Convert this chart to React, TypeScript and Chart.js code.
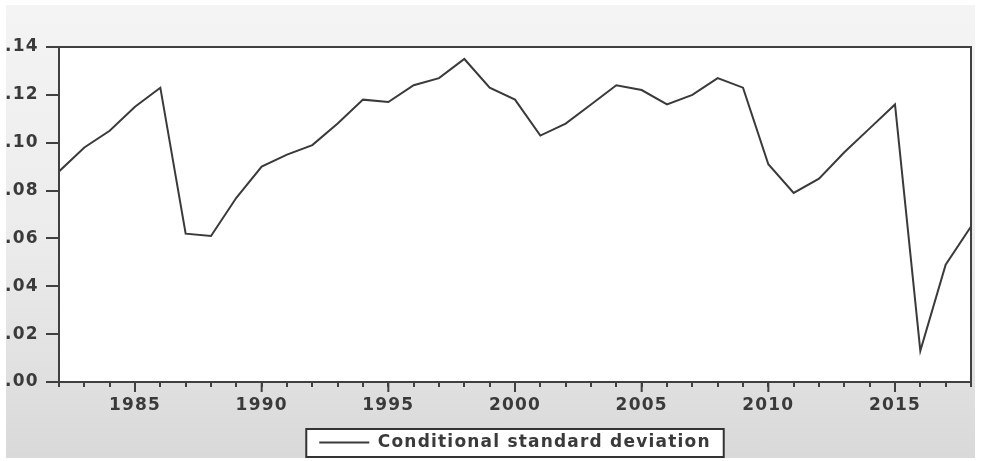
import React, { useEffect, useRef } from "react";
import { Chart, registerables } from "chart.js";

Chart.register(...registerables);

const years = [
  1982, 1983, 1984, 1985, 1986, 1987, 1988, 1989, 1990, 1991, 1992, 1993, 1994,
  1995, 1996, 1997, 1998, 1999, 2000, 2001, 2002, 2003, 2004, 2005, 2006, 2007,
  2008, 2009, 2010, 2011, 2012, 2013, 2014, 2015, 2016, 2017, 2018,
];

const conditionalSD = [
  0.088, 0.098, 0.105, 0.115, 0.123, 0.062, 0.061, 0.077, 0.09, 0.095, 0.099,
  0.108, 0.118, 0.117, 0.124, 0.127, 0.135, 0.123, 0.118, 0.103, 0.108, 0.116,
  0.124, 0.122, 0.116, 0.12, 0.127, 0.123, 0.091, 0.079, 0.085, 0.096, 0.106,
  0.116, 0.013, 0.049, 0.065,
];

const yTickValues = [0, 0.02, 0.04, 0.06, 0.08, 0.1, 0.12, 0.14];
const yTickLabels = [".00", ".02", ".04", ".06", ".08", ".10", ".12", ".14"];
const xTickValues = [1985, 1990, 1995, 2000, 2005, 2010, 2015];
const xTickLabels = ["1985", "1990", "1995", "2000", "2005", "2010", "2015"];

const seriesName = "Conditional standard deviation";

const AXIS = "#404040";
const TEXT = "#3a3a3a";
const FONT = { family: "'DejaVu Sans', sans-serif", size: 17, weight: "bold" as const };
const SPACING = "1.2px";

const spacingPlugin = {
  id: "spacing",
  beforeInit(chart: any) {
    chart.ctx.letterSpacing = SPACING;
  },
  beforeLayout(chart: any) {
    chart.ctx.letterSpacing = SPACING;
  },
  beforeDraw(chart: any) {
    chart.ctx.letterSpacing = SPACING;
  },
};

const framePlugin = {
  id: "frame",
  beforeDraw(chart: any) {
    const { ctx, chartArea: a } = chart;
    ctx.save();
    ctx.fillStyle = "#ffffff";
    ctx.fillRect(a.left, a.top, a.right - a.left, a.bottom - a.top);
    const hb = chart.legend && chart.legend.legendHitBoxes && chart.legend.legendHitBoxes[0];
    if (hb) {
      const x = hb.left - 13;
      const y = hb.top - 5;
      const w = hb.width + 26;
      const h = hb.height + 11;
      ctx.fillRect(x, y, w, h);
      ctx.strokeStyle = "#333333";
      ctx.lineWidth = 2;
      ctx.strokeRect(x, y, w, h);
    }
    ctx.restore();
  },
  afterDraw(chart: any) {
    const { ctx, chartArea: a, scales } = chart;
    ctx.save();
    ctx.strokeStyle = AXIS;
    ctx.lineWidth = 2;
    ctx.strokeRect(a.left, a.top, a.right - a.left, a.bottom - a.top);
    ctx.beginPath();
    xTickValues.forEach((v) => {
      const px = scales.x.getPixelForValue(v);
      ctx.moveTo(px, a.bottom);
      ctx.lineTo(px, a.bottom + 10);
    });
    ctx.stroke();
    ctx.restore();
  },
};

export default function App() {
  const ref = useRef<HTMLCanvasElement | null>(null);

  useEffect(() => {
    if (!ref.current) return;
    const chart = new Chart(ref.current, {
      type: "line",
      data: {
        datasets: [
          {
            label: seriesName,
            data: years.map((y, i) => ({ x: y, y: conditionalSD[i] })),
            borderColor: "#3a3a3a",
            backgroundColor: "#3a3a3a",
            borderWidth: 2,
            pointRadius: 0,
            tension: 0,
            fill: false,
          },
        ],
      },
      options: {
        animation: false,
        responsive: false,
        devicePixelRatio: 1,
        layout: { padding: { left: 5, right: 12, top: 47, bottom: 0 } },
        plugins: {
          tooltip: { enabled: false },
          legend: {
            position: "bottom",
            fullSize: false,
            labels: {
              usePointStyle: true,
              pointStyle: "line",
              pointStyleWidth: 50,
              font: FONT,
              color: TEXT,
              padding: 10,
            },
          },
        },
        scales: {
          x: {
            type: "linear",
            min: years[0],
            max: years[years.length - 1],
            afterFit: (s: any) => {
              s.height = 42;
            },
            ticks: {
              stepSize: 1,
              autoSkip: false,
              maxRotation: 0,
              padding: 8,
              font: FONT,
              color: TEXT,
              callback: (v: any) => {
                const i = xTickValues.indexOf(Number(v));
                return i >= 0 ? xTickLabels[i] : "";
              },
            },
            grid: {
              drawOnChartArea: false,
              drawTicks: true,
              tickLength: 5,
              color: AXIS,
              lineWidth: 2,
            },
            border: { color: AXIS, width: 2 },
          },
          y: {
            min: 0,
            max: 0.14,
            afterFit: (s: any) => {
              s.width = 54;
            },
            afterBuildTicks: (s: any) => {
              s.ticks = yTickValues.map((v) => ({ value: v }));
            },
            ticks: {
              crossAlign: "far",
              padding: 3,
              font: FONT,
              color: TEXT,
              callback: (v: any) => {
                const i = yTickValues.findIndex((t) => Math.abs(t - Number(v)) < 1e-9);
                return i >= 0 ? yTickLabels[i] : "";
              },
            },
            grid: {
              drawOnChartArea: false,
              drawTicks: true,
              tickLength: 13,
              color: AXIS,
              lineWidth: 2,
            },
            border: { color: AXIS, width: 2 },
          },
        },
      },
      plugins: [spacingPlugin, framePlugin],
    });
    return () => chart.destroy();
  }, []);

  return (
    <div style={{ position: "absolute", left: 0, top: 0, width: 983, height: 461, background: "#ffffff" }}>
      <div
        style={{
          position: "absolute",
          left: 6,
          top: 5,
          width: 969,
          height: 453,
          background: "linear-gradient(to bottom, #f4f4f4 0%, #ececec 50%, #d9d9d9 100%)",
        }}
      />
      <canvas ref={ref} width={983} height={461} style={{ position: "absolute", left: 0, top: 0, width: 983, height: 461 }} />
    </div>
  );
}
